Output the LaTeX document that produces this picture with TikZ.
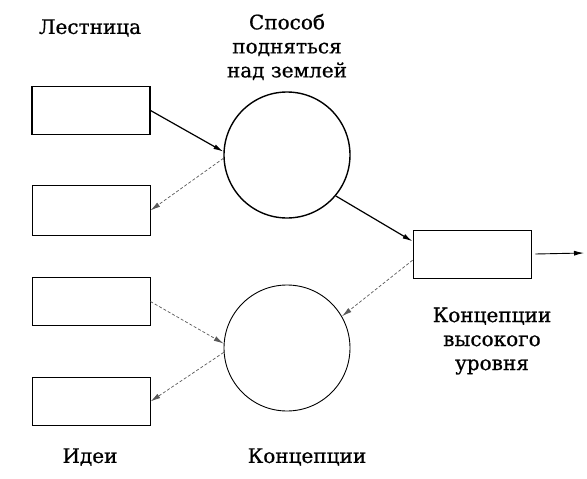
\documentclass[tikz,border=0pt]{standalone}
\usepackage{fontspec}
\setmainfont[FakeBold=0.8]{DejaVu Serif}
\usetikzlibrary{arrows.meta}

\begin{document}
\begin{tikzpicture}[x=1pt,y=-1pt,
  box/.style={draw,line width=1.1pt,minimum width=118pt,minimum height=48pt,inner sep=0pt},
  ring/.style={draw,circle,minimum size=126pt,inner sep=0pt},
  lbl/.style={align=center,font=\fontsize{20}{24}\selectfont},
  solidarr/.style={line width=1.2pt,-{Latex[length=10pt,width=5pt]}},
  dasharr/.style={gray!70!black,line width=0.7pt,dash pattern=on 3pt off 2pt,-{Latex[length=10pt,width=5pt]}}]
\useasboundingbox (0,0) rectangle (587,479);
\node [box] (ladder) at (91,110.5) {};
\node [box,line width=0.8pt,minimum height=50pt] (ladderlow) at (91,210.5) {};
\node [box,line width=0.9pt] (ideas) at (91,301.5) {};
\node [box,line width=0.9pt] (ideaslow) at (91,401.5) {};
\node [box,line width=0.9pt] (high) at (472,254) {};
\node [ring,line width=1.4pt] (lift) at (287,155) {};
\node [ring,line width=0.9pt] (concept) at (287,348) {};
\coordinate (out) at (584,253);
\node [lbl] (tladder) at (90,28) {Лестница};
\node [lbl] (tlift) at (287,47) {Способ\\подняться\\над землей};
\node [lbl] (thigh) at (492,341) {Концепции\\высокого\\уровня};
\node [lbl] (tideas) at (90,457) {Идеи};
\node [lbl] (tconcept) at (307,457) {Концепции};
\draw [solidarr] (ladder.east) -- (lift.177);
\draw [dasharr] (lift.183) -- (ladderlow.east);
\draw [solidarr] (lift.-40) -- (high.168);
\draw [dasharr] (high.186) -- (concept.30);
\draw [dasharr] (ideas.east) -- (concept.176);
\draw [dasharr] (concept.184) -- (ideaslow.east);
\draw [line width=0.9pt,-{Latex[length=10pt,width=5pt]}] ([xshift=4pt]high.east) -- (out);
\end{tikzpicture}
\end{document}
